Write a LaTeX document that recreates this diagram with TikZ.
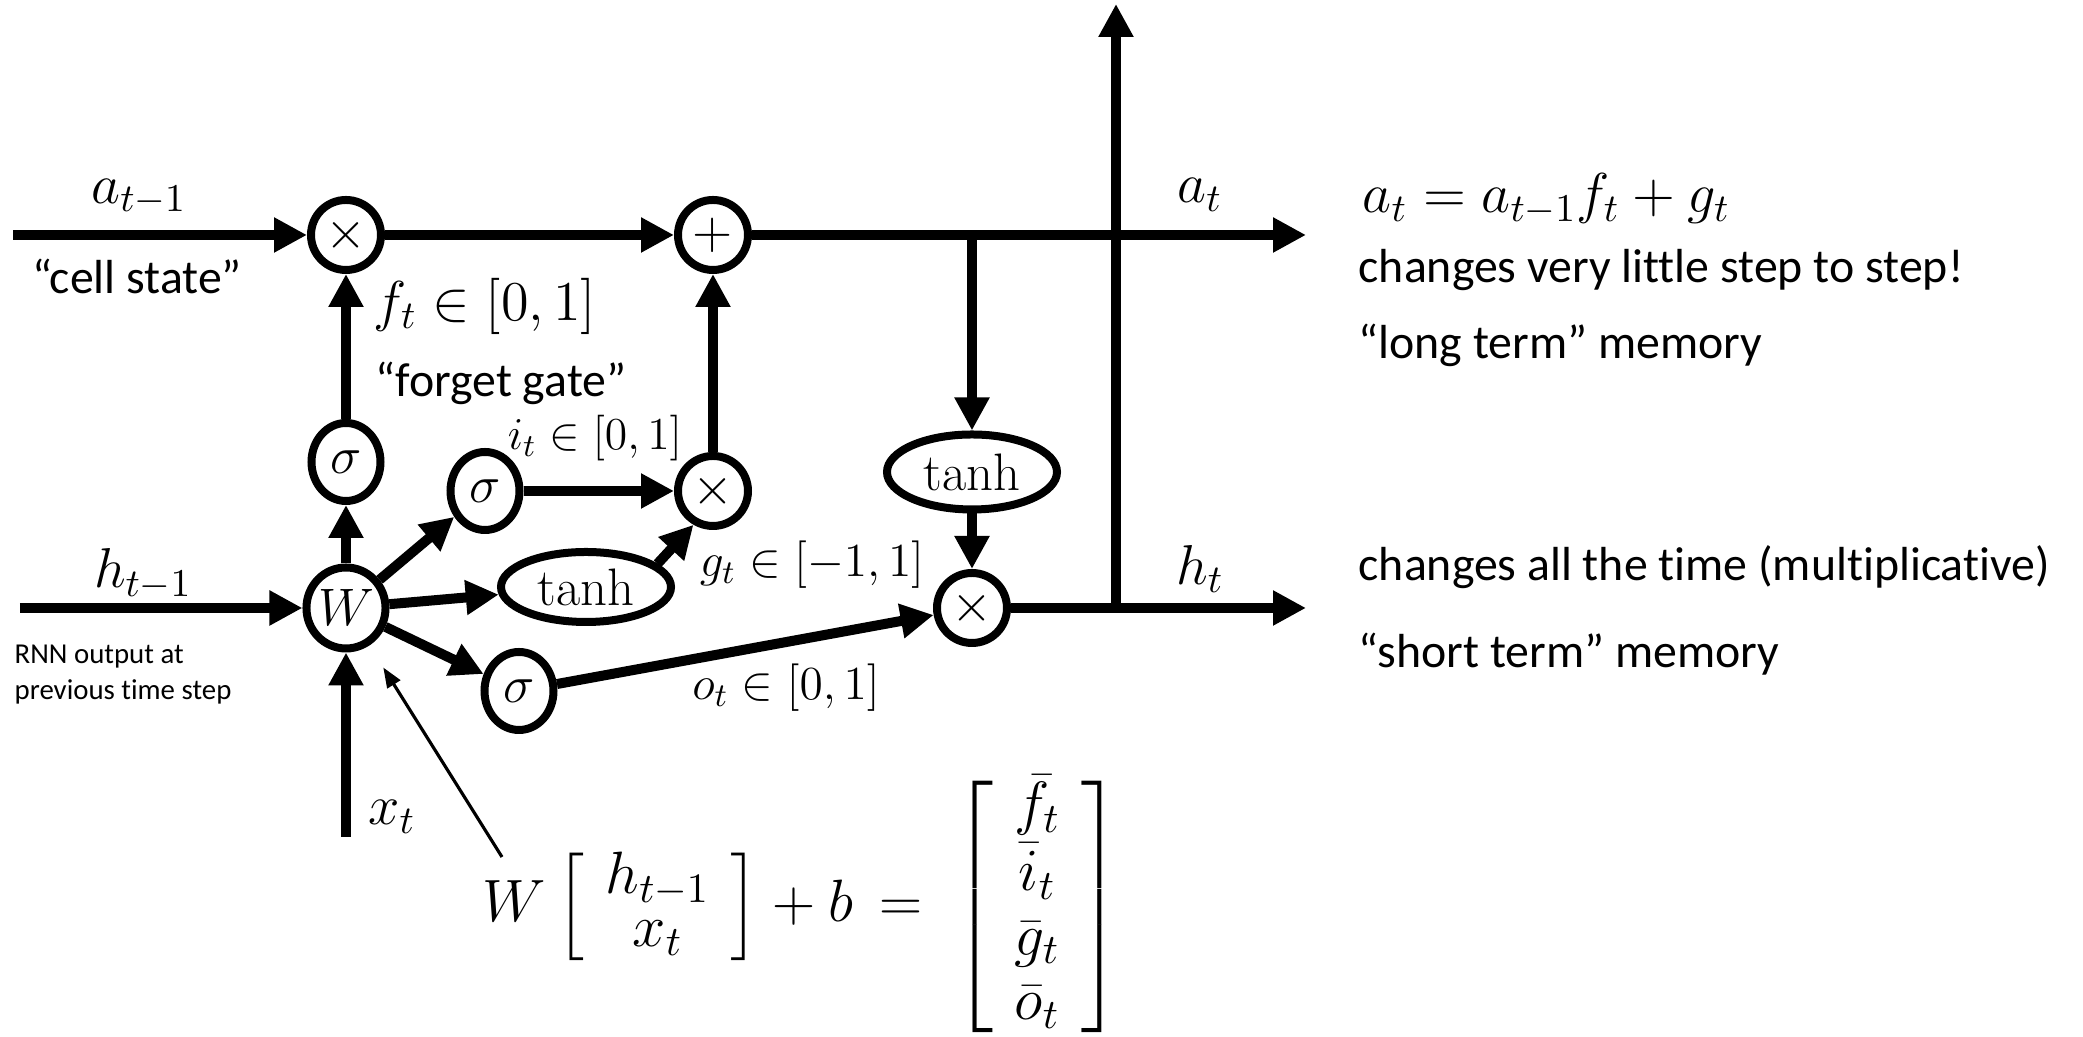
\RequirePackage{fix-cm}
\documentclass[tikz,border=0pt]{standalone}
\usepackage{amsmath,amssymb}
\usepackage{fontspec}
\newfontfamily\calibfont[Ligatures=NoCommon]{Carlito}
\usetikzlibrary{positioning, arrows.meta, shapes.geometric}

\newcommand{\mathsz}{\fontsize{16}{19}\selectfont}
\newcommand{\nodesz}{\fontsize{15}{18}\selectfont}
\newcommand{\smallsz}{\fontsize{13.5}{16}\selectfont}

\begin{document}
\begin{tikzpicture}[
    >={Triangle[length=3.3mm, width=3.3mm]},
    every node/.style={inner sep=0pt},
    op/.style={circle, draw, line width=0.8mm, minimum size=7mm, font=\nodesz},
    gate/.style={ellipse, draw, line width=0.8mm, minimum width=6.9mm, minimum height=7.8mm, font=\nodesz},
    act/.style={ellipse, draw, line width=0.8mm, minimum width=17mm, minimum height=7mm, font=\nodesz},
    flow/.style={->, line width=1mm},
    lbl/.style={font=\mathsz},
    slbl/.style={font=\smallsz},
    note/.style={font=\calibfont\fontsize{13.6}{16}\selectfont}
]
    \useasboundingbox (0,0) rectangle (20.83,10.37);

    % cell state row
    \node[op]   (x1)    at (3.46,8.02) {$\times$};
    \node[op]   (plus)  at (7.13,8.02) {$+$};
    % gates
    \node[gate] (sf)    at (3.46,5.75) {$\sigma$};
    \node[gate, minimum height=8.1mm] (W) at (3.46,4.29) {$W$};
    \node[gate] (si)    at (4.85,5.46) {$\sigma$};
    \node[op]   (x2)    at (7.13,5.46) {$\times$};
    \node[act]  (tanhg) at (5.86,4.50) {$\tanh$};
    \node[gate] (so)    at (5.19,3.46) {$\sigma$};
    \node[act, minimum height=7.5mm] (tanhc) at (9.72,5.65) {$\tanh$};
    \node[op]   (x3)    at (9.72,4.29) {$\times$};

    \coordinate (ain)  at (0.13,8.02);
    \coordinate (hin)  at (0.20,4.29);
    \coordinate (xin)  at (3.46,2.00);
    \coordinate (aout) at (13.06,8.02);
    \coordinate (hout) at (13.06,4.29);
    \coordinate (br)   at (9.72,8.02);
    \coordinate (up0)  at (11.16,4.29);
    \coordinate (up1)  at (11.16,10.33);
    \coordinate (ptr)  at (5.02,1.80);

    \draw[flow] (ain) -- (x1);
    \draw[flow] (x1) -- (plus);
    \draw[flow] (plus) -- (aout);
    \draw[flow] (br) -- (tanhc);
    \draw[flow] (tanhc) -- (x3);
    \draw[flow] (x3) -- (hout);
    \draw[flow] (up0) -- (up1);
    \draw[flow] (hin) -- (W);
    \draw[flow] (xin) -- (W);
    \draw[flow] (W) -- (sf);
    \draw[flow] (sf) -- (x1);
    \draw[flow] (W) -- (si);
    \draw[flow] (W) -- (tanhg);
    \draw[flow] (W) -- (so);
    \draw[flow] (si) -- (x2);
    \draw[flow] (tanhg.18) -- (x2.240);
    \draw[flow] (x2) -- (plus);
    \draw[flow] (so) -- (x3);
    \draw[-{Triangle[length=2mm, width=1.5mm]}, line width=0.9pt, shorten >=2.6mm] (ptr) -- (W);

    % labels
    \node[lbl]  (lain)    at (1.39,8.40) {$a_{t-1}$};
    \node[note] (lcell)   at (1.37,7.61) {“cell state”};
    \node[lbl]  (lf)      at (4.85,7.31) {$f_t\in[0,1]$};
    \node[note] (lforget) at (5.01,6.54) {“forget gate”};
    \node[slbl, font=\fontsize{13}{15}\selectfont] (li) at (5.95,5.99) {$i_t\in[0,1]$};
    \node[lbl]  (lhin)    at (1.43,4.63) {$h_{t-1}$};
    \node[font=\calibfont\fontsize{8.2}{10.2}\selectfont, align=left, anchor=west]
        (lrnn) at (0.14,3.62) {RNN output at\\previous time step};
    \node[slbl] (lg)      at (8.12,4.72) {$g_t\in[-1,1]$};
    \node[slbl] (lo)      at (7.86,3.49) {$o_t\in[0,1]$};
    \node[lbl]  (lx)      at (3.92,2.20) {$x_t$};
    \node[lbl]  (lat)     at (12.00,8.42) {$a_t$};
    \node[lbl]  (lht)     at (12.00,4.68) {$h_t$};

    \node[lbl, font=\fontsize{17}{19}\selectfont] (eqn) at (8.02,1.30) {$%
        W\renewcommand\arraystretch{0.79}%
        \left[\begin{array}{@{\hspace{6pt}}c@{\hspace{6pt}}} h_{t-1}\\ x_t \end{array}\right]
        + b\,=\hspace{4pt}\renewcommand\arraystretch{0.97}%
        \left[\begin{array}{@{\hspace{6pt}}c@{\hspace{6pt}}} \bar f_t\\ \bar i_t\\
        \bar g_t\\ \bar o_t \end{array}\right]$};

    % notes on the right
    \node[lbl, anchor=west]  (cellrule) at (13.62,8.38) {$a_t = a_{t-1}f_t + g_t$};
    \node[note, anchor=west] (slow)     at (13.58,7.67) {changes very little step to step!};
    \node[note, below=7.5mm of slow.west, anchor=west] (longterm) {“long term” memory};
    \node[note, anchor=west] (fast)     at (13.58,4.70) {changes all the time (multiplicative)};
    \node[note, below=8.7mm of fast.west, anchor=west] (shortterm) {“short term” memory};
\end{tikzpicture}
\end{document}
